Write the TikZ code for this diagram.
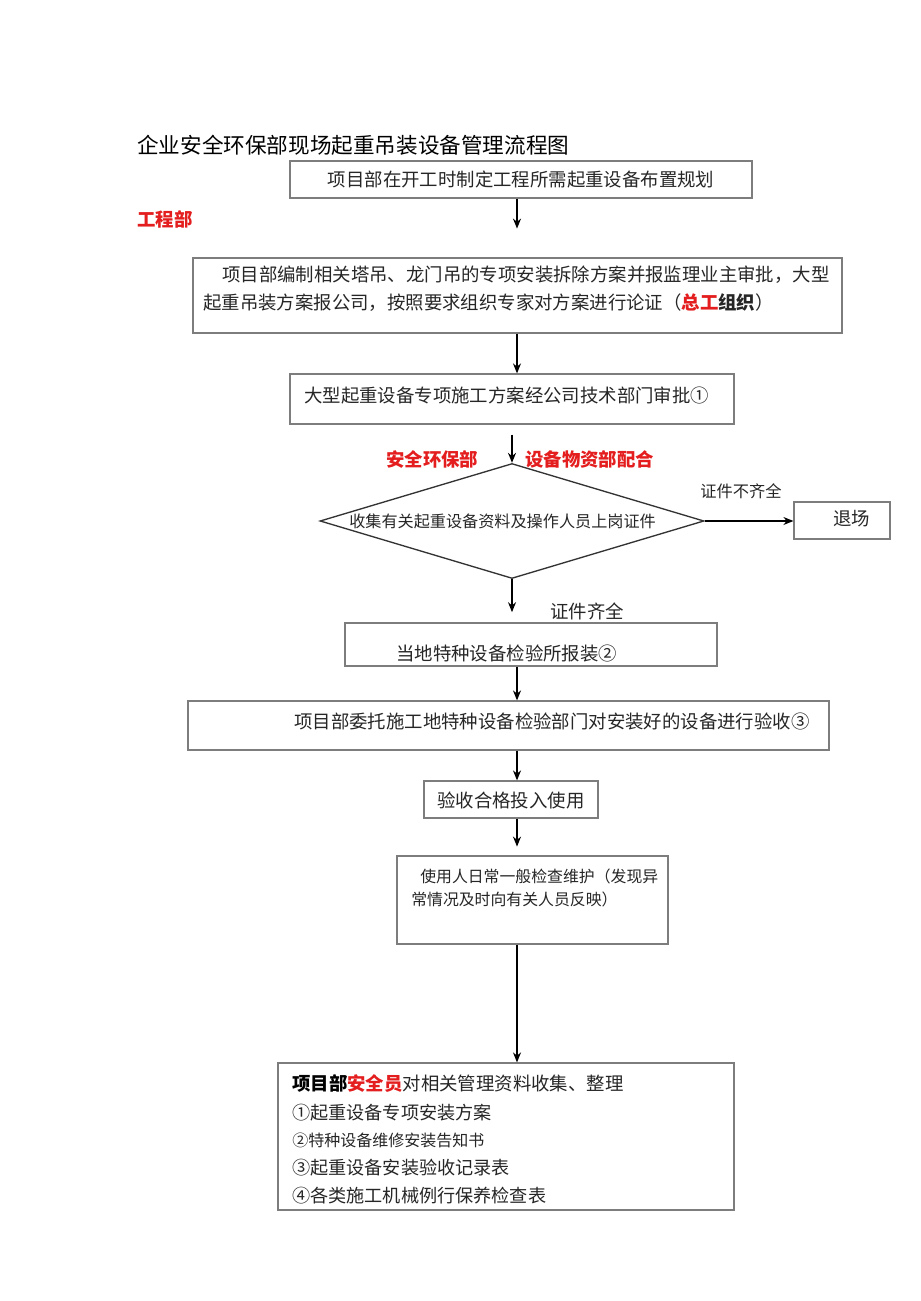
\documentclass[tikz,border=0pt]{standalone}
\usepackage{fontspec}
\setmainfont{Noto Sans CJK SC}
\usepackage{xcolor}
\usetikzlibrary{arrows.meta, fit, shapes.geometric}
\definecolor{hired}{RGB}{228,30,30}
\definecolor{boxgray}{RGB}{125,125,125}
\newcommand{\fsz}[1]{\fontsize{#1}{#1}\selectfont}
\newdimen\px \px=0.75pt

\begin{document}
\begin{tikzpicture}[
  x=0.75pt, y=-0.75pt,
  box/.style={draw=boxgray, line width=0.9pt, inner sep=0pt},
  arr/.style={-{Stealth[length=7.5pt, width=6pt]}, line width=1.1pt},
  txt/.style={anchor=west, inner sep=0pt, text=black!85, font=\fsz{13.8}},
  hl/.style={anchor=west, inner sep=0pt, text=hired, font=\fsz{13.8}\bfseries},
]
\fill[white] (0,0) rectangle (920,1301);
\useasboundingbox (0,0) rectangle (920,1301);
\coordinate (ax) at (517,0);

% --- Title ---
\node[txt, text=black, font=\fsz{16.2}] (title) at (137,145) {企业安全环保部现场起重吊装设备管理流程图};

% --- Boxes ---
\node[box, fit={(290,161) (752,198)}] (b1) {};
\node[txt, anchor=center] (t1) at (b1.center) {项目部在开工时制定工程所需起重设备布置规划};
\node[hl] (gcb) at (137,219) {工程部};

\node[box, fit={(193,258) (842,333)}] (b2) {};
\node[txt] (t2a) at (222,275) {项目部编制相关塔吊、龙门吊的专项安装拆除方案并报监理业主审批，大型};
\node[txt] (t2b) at (203,303) {起重吊装方案报公司，按照要求组织专家对方案进行论证（{\color{hired}\bfseries 总工}{\bfseries 组织}）};

\node[box, fit={(290,374) (734,424)}] (b3) {};
\node[txt] (t3) at (304,396) {大型起重设备专项施工方案经公司技术部门审批①};

\node[hl] (aqhb) at (386,459) {安全环保部};
\node[hl] (sbwz) at (525,459) {设备物资部配合};

% --- Decision ---
\node[diamond, draw=black!80, line width=1pt, inner sep=0pt,
      minimum width=384\px, minimum height=115\px] (dia) at (512,521) {};
\node[txt, font=\fsz{12.1}] (tdia) at (349,521) {收集有关起重设备资料及操作人员上岗证件};
\node[box, fit={(794,502) (890,539)}] (tc) {};
\node[txt] (ttc) at (833,519) {退场};
\node[txt, font=\fsz{12.2}] (nq) at (700,491) {证件不齐全};
\node[txt] (q) at (550,611) {证件齐全};

\node[box, fit={(345,623) (717,666)}] (b4) {};
\node[txt] (t4) at (396,653) {当地特种设备检验所报装②};

\node[box, fit={(188,701) (829,750)}] (b5) {};
\node[txt] (t5) at (294,721) {项目部委托施工地特种设备检验部门对安装好的设备进行验收③};

\node[box, fit={(424,781) (598,818)}] (b6) {};
\node[txt] (t6) at (437,800) {验收合格投入使用};

\node[box, fit={(397,856) (668,944)}] (b7) {};
\node[txt, font=\fsz{11.9}] (t7a) at (420,876) {使用人日常一般检查维护（发现异};
\node[txt, font=\fsz{11.9}] (t7b) at (411,899) {常情况及时向有关人员反映）};

\node[box, fit={(278,1063) (734,1210)}] (b8) {};
\node[txt] (t8) at (292,1084) {{\bfseries\color{black}项目部}{\color{hired}\bfseries 安全员}对相关管理资料收集、整理};
\foreach \i/\y/\f/\t in {1/1113/13.6/①起重设备专项安装方案, 2/1140/12/②特种设备维修安装告知书, 3/1168/13.6/③起重设备安装验收记录表, 4/1196/13.6/④各类施工机械例行保养检查表}{
  \node[txt, font=\fsz{\f}] (doc\i) at (292,\y) {\t};
}

% --- Arrows ---
\draw[arr] (b1.south -| ax) -- ++(0,30);
\draw[arr] (b2.south -| ax) -- (b3.north -| ax);
\draw[arr] ([yshift=-7.5pt]b3.south -| dia.north) -- (dia.north);
\draw[arr] (dia.south) -- ++(0,33);
\draw[arr] (b4.south -| ax) -- (b5.north -| ax);
\draw[arr] (b5.south -| ax) -- (b6.north -| ax);
\draw[arr] (b6.south -| ax) -- ++(0,28);
\draw[arr] (b7.south -| ax) -- (b8.north -| ax);
\draw[arr] (dia.east) -- (dia.east -| tc.west);
\end{tikzpicture}
\end{document}
